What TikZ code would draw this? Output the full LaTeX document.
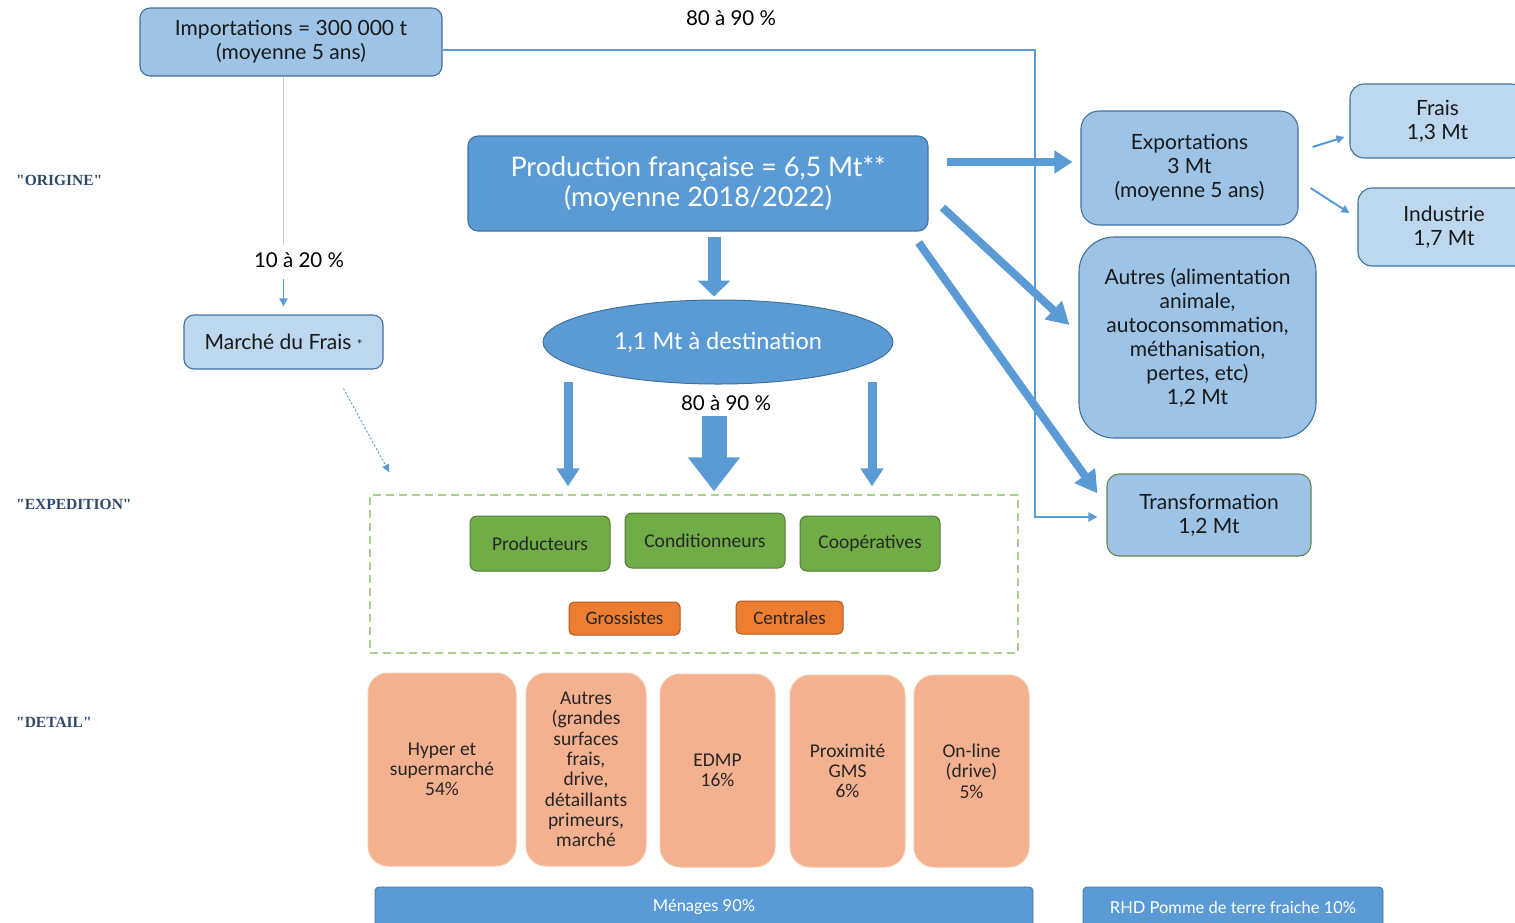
\documentclass[tikz,border=0pt]{standalone}
\usepackage{fontspec}
\setmainfont{Lato}
\newfontfamily\carl{Carlito}
\newfontfamily\tms{Liberation Serif}
\usetikzlibrary{arrows.meta,shapes.geometric,calc}
\definecolor{mblue}{HTML}{5B9BD5}
\definecolor{lblue}{HTML}{9DC3E6}
\definecolor{llblue}{HTML}{BDD7EE}
\definecolor{bord}{HTML}{41719C}
\definecolor{gfill}{HTML}{70AD47}
\definecolor{gbord}{HTML}{507E32}
\definecolor{ofill}{HTML}{ED7D31}
\definecolor{obord}{HTML}{AE5A21}
\definecolor{sfill}{HTML}{F4B18F}
\definecolor{sbord}{HTML}{F7C6A8}
\definecolor{navy}{HTML}{2E4A6B}
\definecolor{dgreen}{HTML}{A9D18E}
\definecolor{tgreen}{HTML}{5E8A4A}
\begin{document}
\begin{tikzpicture}[x=1pt,y=-1pt,
  sz/.style 2 args={minimum width=#1pt, minimum height=#2pt},
  box/.style={draw=bord, line width=1.1pt, rounded corners=10pt, align=center, inner sep=0pt, text=black!90, font=\fontsize{21}{24}\selectfont},
  lbox/.style={box, fill=lblue},
  llbox/.style={box, fill=llblue},
  gbox/.style={draw=gbord, line width=1pt, fill=gfill, rounded corners=7pt, inner sep=0pt, text=black!85, font=\carl\fontsize{19.5}{22}\selectfont},
  obox/.style={draw=obord, line width=1pt, fill=ofill, rounded corners=5pt, inner sep=0pt, text=black!85, font=\carl\fontsize{19}{22}\selectfont},
  sbox/.style={draw=sbord, line width=1pt, fill=sfill, rounded corners=20pt, inner sep=0pt, align=center, text=black!85, font=\carl\fontsize{19.5}{20.3}\selectfont},
  bar/.style={draw=bord, line width=0.8pt, fill=mblue, rounded corners=4pt, inner sep=0pt, text=white, font=\fontsize{16.5}{19}\selectfont},
  side/.style={anchor=west, inner sep=0pt, text=navy, font=\tms\bfseries\fontsize{15.5}{18}\selectfont},
  pct/.style={inner sep=0pt, text=black, font=\fontsize{20.5}{24}\selectfont},
  thinarrow/.style={draw=mblue, line width=2.2pt, -{Triangle[width=9pt,length=9pt]}},
  fatarrow/.style={draw=mblue, line width=8pt, -{Triangle[width=24pt,length=22pt]}},
  fatarrowb/.style={draw=mblue, line width=8.5pt, -{Triangle[width=22pt,length=18pt]}}
]
\useasboundingbox (0,0) rectangle (1515,922);

% side labels
\node[side] (lorig) at (16,180) {"ORIGINE"};
\node[side] (lexp) at (16,504) {"EXPEDITION"};
\node[side] (ldet) at (16,722) {"DETAIL"};

% top
\node[lbox, sz={302}{68}] (imp) at (291,42) {Importations = 300 000 t\\(moyenne 5 ans)};
\node[pct] (p1) at (731,18) {80 à 90 \%};
\node[llbox, sz={199}{54}] (marche) at (283.5,342) {Marché du Frais {\fontsize{13}{13}\selectfont *}};
\node[pct] (p2) at (299,260) {10 à 20 \%};

\node[box, fill=mblue, text=white, sz={460}{95}, font=\fontsize{27}{30}\selectfont] (prod) at (698,183.5) {Production française = 6,5 Mt**\\(moyenne 2018/2022)};
\node[ellipse, draw=bord, line width=1pt, fill=mblue, text=white, inner sep=0pt, sz={350}{84}, font=\fontsize{23.5}{26}\selectfont] (ell) at (718,342) {1,1 Mt à destination};
\node[pct] (p3) at (726,403) {80 à 90 \%};

% right side
\node[lbox, rounded corners=18pt, sz={217}{114}] (expo) at (1189.5,168) {Exportations\\3 Mt\\(moyenne 5 ans)};
\node[llbox, rounded corners=14pt, sz={175}{74}] (frais) at (1437.5,121) {Frais\\1,3 Mt};
\node[llbox, rounded corners=14pt, sz={172}{78}] (indus) at (1444,227) {Industrie\\1,7 Mt};
\node[lbox, rounded corners=35pt, sz={237}{201}] (autres) at (1197.5,337.5) {Autres (alimentation\\animale,\\autoconsommation,\\méthanisation,\\pertes, etc)\\1,2 Mt};
\node[lbox, draw=tgreen, rounded corners=12pt, sz={204}{82}] (transfo) at (1209,515) {Transformation\\1,2 Mt};

% expedition
\node[draw=dgreen, line width=1.3pt, dash pattern=on 8pt off 5pt, sz={648}{158}, inner sep=0pt] (expb) at (694,574) {};
\node[gbox, sz={140}{55}] (prodr) at (540,543.5) {Producteurs};
\node[gbox, sz={160}{55}] (cond) at (705,540.5) {Conditionneurs};
\node[gbox, sz={140}{55}] (coop) at (870,543.5) {Coopératives};
\node[obox, sz={111}{33}] (gros) at (624.5,618.5) {Grossistes};
\node[obox, sz={107}{33}] (cent) at (789.5,617.5) {Centrales};

% detail
\node[sbox, sz={148}{193}] (d1) at (442,769.5) {Hyper et\\supermarché\\54\%};
\node[sbox, sz={120}{193}] (d2) at (586,769.5) {Autres\\(grandes\\surfaces\\frais,\\drive,\\détaillants\\primeurs,\\marché};
\node[sbox, sz={115}{193}] (d3) at (717.5,770.5) {EDMP\\16\%};
\node[sbox, sz={115}{192}] (d4) at (847.5,771) {Proximité\\GMS\\6\%};
\node[sbox, sz={115}{192}] (d5) at (971.5,771) {On-line\\(drive)\\5\%};

\node[bar, sz={658}{40}] (men) at (704,907) {Ménages 90\%};
\node[bar, sz={300}{40}] (rhd) at (1233,907) {RHD Pomme de terre fraiche 10\%};

% connectors
\coordinate (c1) at (1035,50);
\draw[draw=mblue, line width=2.2pt, -{Triangle[width=9pt,length=9pt]}] ([yshift=-8pt]imp.east) -- (c1) |- ([xshift=-9pt,yshift=-2pt]transfo.west);
\coordinate (g1) at (283,245);
\draw[draw=black!20, line width=0.8pt] ([xshift=-8pt]imp.south) -- (g1);
\draw[thinarrow, line width=1.8pt, -{Triangle[width=8pt,length=8pt]}] ([yshift=35pt]marche.north) -- ([yshift=8pt]marche.north);
\draw[draw=mblue, line width=1pt, dash pattern=on 2pt off 2pt, -{Triangle[width=7pt,length=8pt]}] ([xshift=60pt,yshift=-19pt]marche.south) -- ([xshift=20pt,yshift=22pt]expb.north west);

\draw[draw=mblue, line width=13pt, -{Triangle[width=32pt,length=16pt]}] ([xshift=16pt,yshift=-5pt]prod.south) -- ([xshift=-4pt,yshift=3pt]ell.north);
\draw[draw=mblue, line width=9pt, -{Triangle[width=22pt,length=18pt]}] ([xshift=-150pt,yshift=3pt]ell.south) -- ([xshift=-150pt,yshift=8pt]ell.south |- expb.north);
\draw[draw=mblue, line width=9pt, -{Triangle[width=22pt,length=18pt]}] ([xshift=154pt,yshift=3pt]ell.south) -- ([xshift=154pt,yshift=8pt]ell.south |- expb.north);
\draw[draw=mblue, line width=25pt, -{Triangle[width=50pt,length=34pt]}] ([xshift=-4pt,yshift=-31pt]ell.south) -- ([xshift=-4pt,yshift=3pt]ell.south |- expb.north);

\draw[fatarrowb] ([xshift=18pt,yshift=21.5pt]prod.east) -- ([xshift=-8pt,yshift=6pt]expo.west);
\draw[fatarrow] ([xshift=14pt,yshift=24pt]prod.south east) -- ([xshift=-9pt,yshift=12.5pt]autres.west);
\draw[fatarrow] ([xshift=-10pt,yshift=-11pt]prod.south east) -- ([xshift=-9pt,yshift=-20pt]transfo.north west);

\draw[draw=mblue, line width=2pt, -{Triangle[width=8pt,length=8pt]}] ([xshift=14pt,yshift=21pt]expo.east) -- ([xshift=-5pt,yshift=-16pt]frais.west);
\draw[draw=mblue, line width=2pt, -{Triangle[width=8pt,length=8pt]}] ([xshift=12pt,yshift=-20pt]expo.east) -- ([xshift=-8pt,yshift=14pt]indus.west);
\end{tikzpicture}
\end{document}
